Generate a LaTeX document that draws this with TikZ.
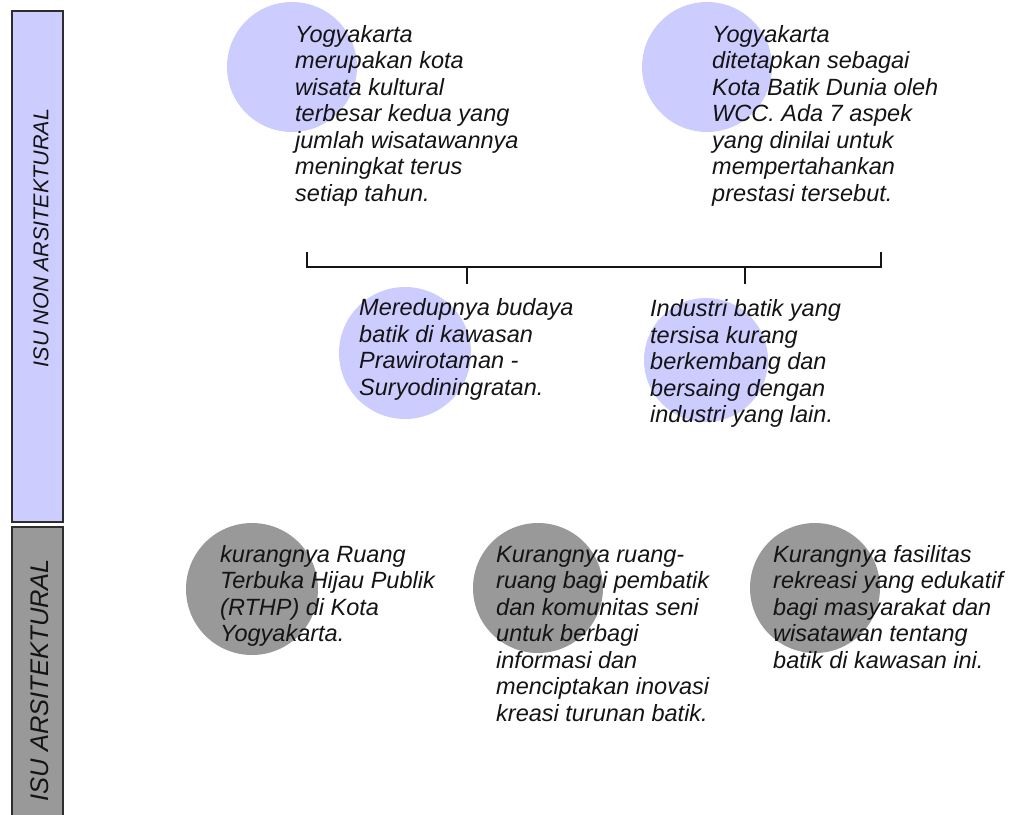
\documentclass[tikz,border=0pt]{standalone}
\usepackage{fontspec}
\setmainfont{Liberation Sans}
\definecolor{lav}{RGB}{204,204,255}
\definecolor{gry}{RGB}{153,153,153}
\definecolor{ink}{RGB}{20,20,20}
\definecolor{barline}{RGB}{45,45,45}
\begin{document}
\begin{tikzpicture}[x=1pt,y=-1pt,
  bubble/.style={circle, inner sep=0pt, draw=none},
  txt/.style={anchor=north west, inner sep=0pt, align=left, text=ink, font=\fontsize{23.5}{26.5}\selectfont\itshape},
  barbox/.style={draw=barline, line width=1.5pt, inner sep=0pt, minimum width=51pt},
  lbl/.style={rotate=90, text=ink, inner sep=0pt},
  brk/.style={draw=ink, line width=1.8pt}]
\useasboundingbox (0,0) rectangle (1012,814);
% side bars
\node[barbox, fill=lav, minimum height=511pt] (barA) at (37.5,266.5) {};
\node[barbox, fill=gry, minimum height=303pt] (barB) at (37.5,678.5) {};
\node[lbl, font=\fontsize{21.5}{24}\selectfont\itshape] (lblA) at (41,238) {ISU NON ARSITEKTURAL};
\node[lbl, font=\fontsize{25.5}{28}\selectfont\itshape] (lblB) at (40,680) {ISU ARSITEKTURAL};
% bubbles
\node[bubble, fill=lav, minimum size=130pt] (c1) at (292,67) {};
\node[bubble, fill=lav, minimum size=130pt] (c2) at (707,67) {};
\node[bubble, fill=lav, minimum size=132pt] (c3) at (405,353) {};
\node[bubble, fill=lav, minimum size=124pt] (c4) at (706,360) {};
\node[bubble, fill=gry, minimum size=132pt] (c5) at (252,589) {};
\node[bubble, fill=gry, minimum size=130pt] (c6) at (538,588) {};
\node[bubble, fill=gry, minimum size=130pt] (c7) at (815,588) {};
% texts
\node[txt] (t1) at (295,23.5) {\strut Yogyakarta\\merupakan kota\\wisata kultural\\terbesar kedua yang\\jumlah wisatawannya\\meningkat terus\\setiap tahun.};
\node[txt] (t2) at (712,23.5) {\strut Yogyakarta\\ditetapkan sebagai\\Kota Batik Dunia oleh\\WCC. Ada 7 aspek\\yang dinilai untuk\\mempertahankan\\prestasi tersebut.};
\node[txt] (t3) at (359,297) {\strut Meredupnya budaya\\batik di kawasan\\Prawirotaman -\\Suryodiningratan.};
\node[txt] (t4) at (650,298) {\strut Industri batik yang\\tersisa kurang\\berkembang dan\\bersaing dengan\\industri yang lain.};
\node[txt] (t5) at (220,543.5) {\strut kurangnya Ruang\\Terbuka Hijau Publik\\(RTHP) di Kota\\Yogyakarta.};
\node[txt] (t6) at (496,543.5) {\strut Kurangnya ruang-\\ruang bagi pembatik\\dan komunitas seni\\untuk berbagi\\informasi dan\\menciptakan inovasi\\kreasi turunan batik.};
\node[txt] (t7) at (773,543.5) {\strut Kurangnya fasilitas\\rekreasi yang edukatif\\bagi masyarakat dan\\wisatawan tentang\\batik di kawasan ini.};
% bracket
\coordinate (bLt) at (307,252);
\coordinate (bLb) at (307,267);
\coordinate (bRb) at (881,267);
\coordinate (bRt) at (881,252);
\coordinate (m1t) at (467,267);
\coordinate (m1b) at (467,284);
\coordinate (m2t) at (745,267);
\coordinate (m2b) at (745,284);
\draw[brk] (bLt) -- (bLb) -- (bRb) -- (bRt);
\draw[brk] (m1t) -- (m1b);
\draw[brk] (m2t) -- (m2b);
\end{tikzpicture}
\end{document}
